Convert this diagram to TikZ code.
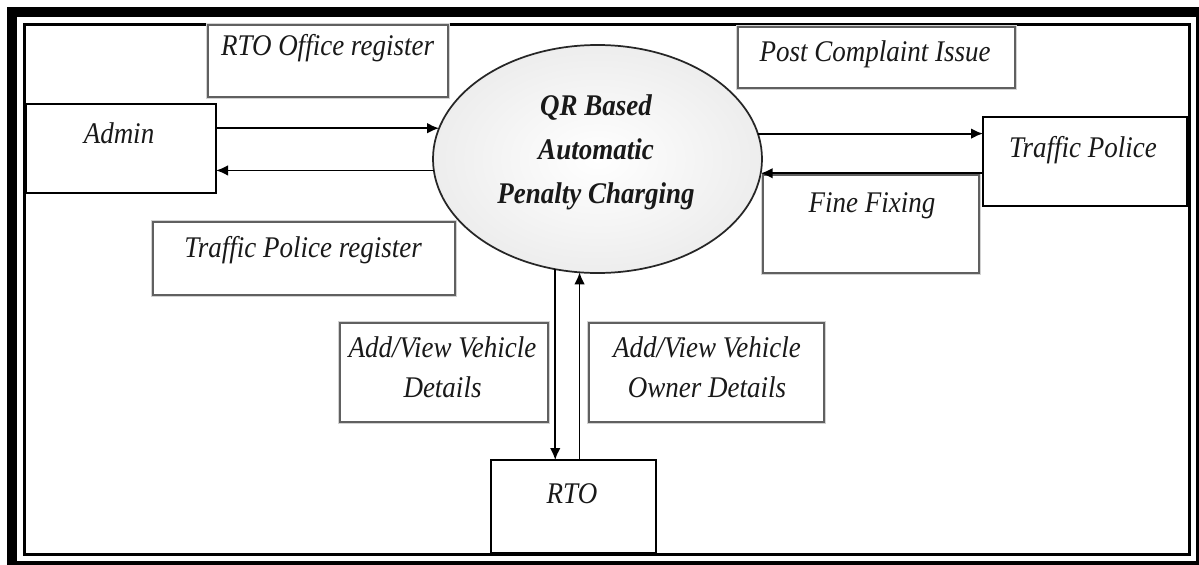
\documentclass[tikz,border=0pt]{standalone}
\usepackage{fontspec}
\setmainfont{Liberation Serif}
\newfontfamily\dfont[FakeStretch=0.9]{Liberation Serif}
\usetikzlibrary{arrows.meta,shapes.geometric}
\tikzset{
  px/.style 2 args={minimum width=#1*0.75pt, minimum height=#2*0.75pt},
  entity/.style={draw=black, line width=1.6pt, fill=white, inner sep=0pt, outer sep=0pt},
  lblbox/.style={draw=gray!75!black, line width=0.9pt, fill=white, inner sep=0pt, outer sep=0pt,
     preaction={draw=gray!35, line width=3.5pt}},
  txt/.style={font=\dfont\itshape\fontsize{22.5pt}{30pt}\selectfont, anchor=base, inner sep=0pt, align=center, text=black!90},
  btxt/.style={font=\dfont\bfseries\itshape\fontsize{22.5pt}{33pt}\selectfont, anchor=base, inner sep=0pt, align=center, text=black!90},
  arr/.style={line width=1.4pt, -{Latex[length=9pt,width=8pt]}},
}
\begin{document}
\begin{tikzpicture}[x=0.75pt,y=-0.75pt]
\useasboundingbox (0,0) rectangle (1199,564);
\fill[white] (0,0) rectangle (1199,564);
% frames
\draw[line width=7.5pt] (12,12) rectangle (1201,566);
\draw[line width=2.2pt] (24.5,24.5) rectangle (1189.5,554.5);
% central process
\node[ellipse, draw=black!85, line width=1.3pt, inner color=white, outer color=gray!14, px={329}{228}, inner sep=0pt, outer sep=0pt] (qr) at (597.5,159) {};
\node[btxt] (qrt) at (596,203) {QR Based\\Automatic\\Penalty Charging};
% entities
\node[entity, px={190}{89}] (admin) at (121,148.5) {};
\node[entity, px={204}{89}] (tp) at (1085,161.5) {};
\node[entity, px={165}{93}] (rto) at (573.5,506.5) {};
% label boxes
\node[lblbox, px={240}{72}] (rtoreg) at (328,61) {};
\node[lblbox, px={302}{73}] (tpreg) at (304,258.5) {};
\node[lblbox, px={277}{61}] (post) at (876.5,57.5) {};
\node[lblbox, px={216}{98}] (fine) at (871,224) {};
\node[lblbox, px={208}{99}] (avd) at (444,372.5) {};
\node[lblbox, px={235}{99}] (avod) at (706.5,372.5) {};
% texts
\node[txt] (admint) at (119,143) {Admin};
\node[txt] (tpt) at (1083,157) {Traffic Police};
\node[txt] (rtot) at (572,503) {RTO};
\node[txt] (rtoregt) at (327.5,55) {RTO Office register};
\node[txt] (tpregt) at (303,257) {Traffic Police register};
\node[txt] (postt) at (875,61) {Post Complaint Issue};
\node[txt] (finet) at (872,212) {Fine Fixing};
\node[txt] (avdt) at (442.5,397) {Add/View Vehicle\\Details};
\node[txt] (avodt) at (707,397) {Add/View Vehicle\\Owner Details};
% flows
\draw[arr] (admin.east |- qr.169.66) -- (qr.169.66);
\draw[arr] (qr.184.9) -- (admin.east |- qr.184.9);
\draw[arr] (qr.9.2) -- (tp.west |- qr.9.2);
\draw[arr] (tp.west |- qr.355.1) -- (qr.355.1);
\draw[arr] (qr.249.4) -- (qr.249.4 |- rto.north);
\draw[arr] (qr.261.2 |- rto.north) -- (qr.261.2);
\end{tikzpicture}
\end{document}
